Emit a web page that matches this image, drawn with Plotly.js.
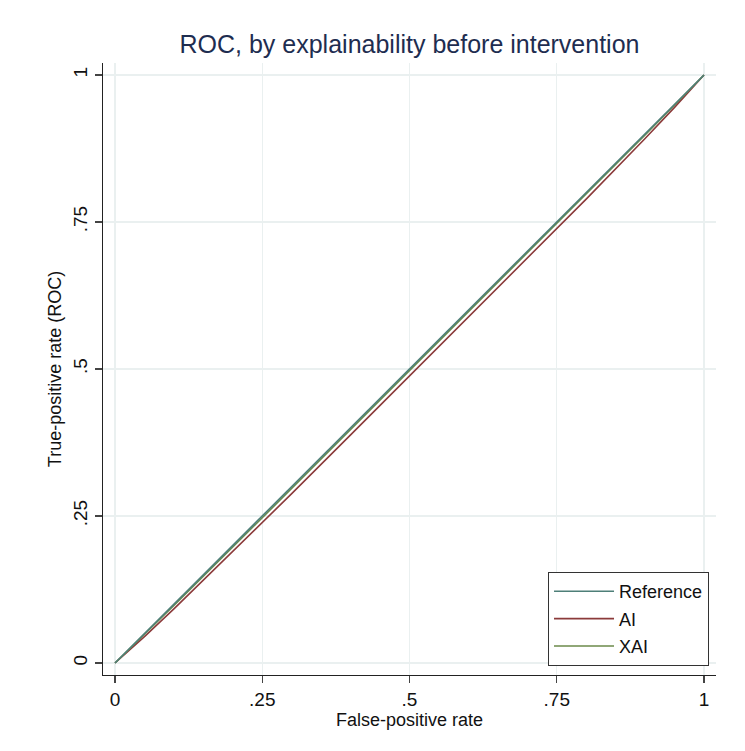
<!DOCTYPE html>
<html>
<head>
<meta charset="utf-8">
<script src="https://cdn.plot.ly/plotly-3.0.1.min.js"></script>
<style>html,body{margin:0;padding:0;background:#fff;}#chart{width:745px;height:751px;}</style>
</head>
<body>
<div id="chart"></div>
<script>
// Data
const refX = [0, 1];
const refY = [0, 1];
const aiX = [0, 0.05, 0.1, 0.2, 0.3, 0.4, 0.5, 0.6, 0.7, 0.8, 0.9, 0.95, 1];
const aiY = [0, 0.045, 0.092, 0.19, 0.288, 0.388, 0.488, 0.588, 0.688, 0.789, 0.892, 0.945, 1];
const xaiX = [0, 0.1, 0.25, 0.5, 0.75, 0.9, 1];
const xaiY = [0, 0.098, 0.247, 0.497, 0.747, 0.898, 1];
const tickVals = [0, 0.25, 0.5, 0.75, 1];
const tickText = ["0", ".25", ".5", ".75", "1"];

const font = "Liberation Sans, Arial, Helvetica, sans-serif";
const traces = [
  {x: aiX, y: aiY, mode: "lines", name: "AI", line: {color: "#8b3a3a", width: 1.6}, legendrank: 2, legendgroup: "b"},
  {x: xaiX, y: xaiY, mode: "lines", name: "XAI", line: {color: "#6b8a4a", width: 1.6}, legendrank: 3, legendgroup: "c"},
  {x: refX, y: refY, mode: "lines", name: "Reference", line: {color: "#4e7f78", width: 1.6}, legendrank: 1, legendgroup: "a"}
];
const axisCommon = {
  range: [-0.0204, 1.0204],
  tickvals: tickVals, ticktext: tickText,
  showgrid: true, gridcolor: "#eaf0f0", gridwidth: 1.2,
  zeroline: false, showline: true, linecolor: "#222", linewidth: 1.2,
  ticks: "outside", ticklen: 7, tickcolor: "#444", tickwidth: 1.2,
  tickfont: {family: font, size: 19, color: "#111"},
  fixedrange: true
};
const layout = {
  width: 745, height: 751,
  margin: {l: 103, r: 29, t: 63, b: 76},
  paper_bgcolor: "#fff", plot_bgcolor: "#fff",
  font: {family: font, color: "#111"},
  title: {text: "ROC, by explainability before intervention", font: {family: font, size: 25, color: "#1e2d50"},
          x: 0.5, xref: "paper", xanchor: "center", y: 1, yref: "container", yanchor: "top", pad: {t: 35}},
  xaxis: Object.assign({}, axisCommon, {title: {text: "False-positive rate", font: {family: font, size: 18, color: "#111"}, standoff: 3}}),
  yaxis: Object.assign({}, axisCommon, {tickangle: -90, title: {text: "True-positive rate (ROC)", font: {family: font, size: 18, color: "#111"}, standoff: 4}}),
  showlegend: true,
  legend: {x: 0.9886, xanchor: "right", y: 0.0147, yanchor: "bottom",
           bordercolor: "#333", borderwidth: 1, bgcolor: "#fff",
           font: {family: font, size: 18, color: "#111"},
           traceorder: "grouped", tracegroupgap: 1, itemwidth: 60,
           entrywidth: 145}
};
Plotly.newPlot("chart", traces, layout, {displayModeBar: false, staticPlot: true});
</script>
</body>
</html>
